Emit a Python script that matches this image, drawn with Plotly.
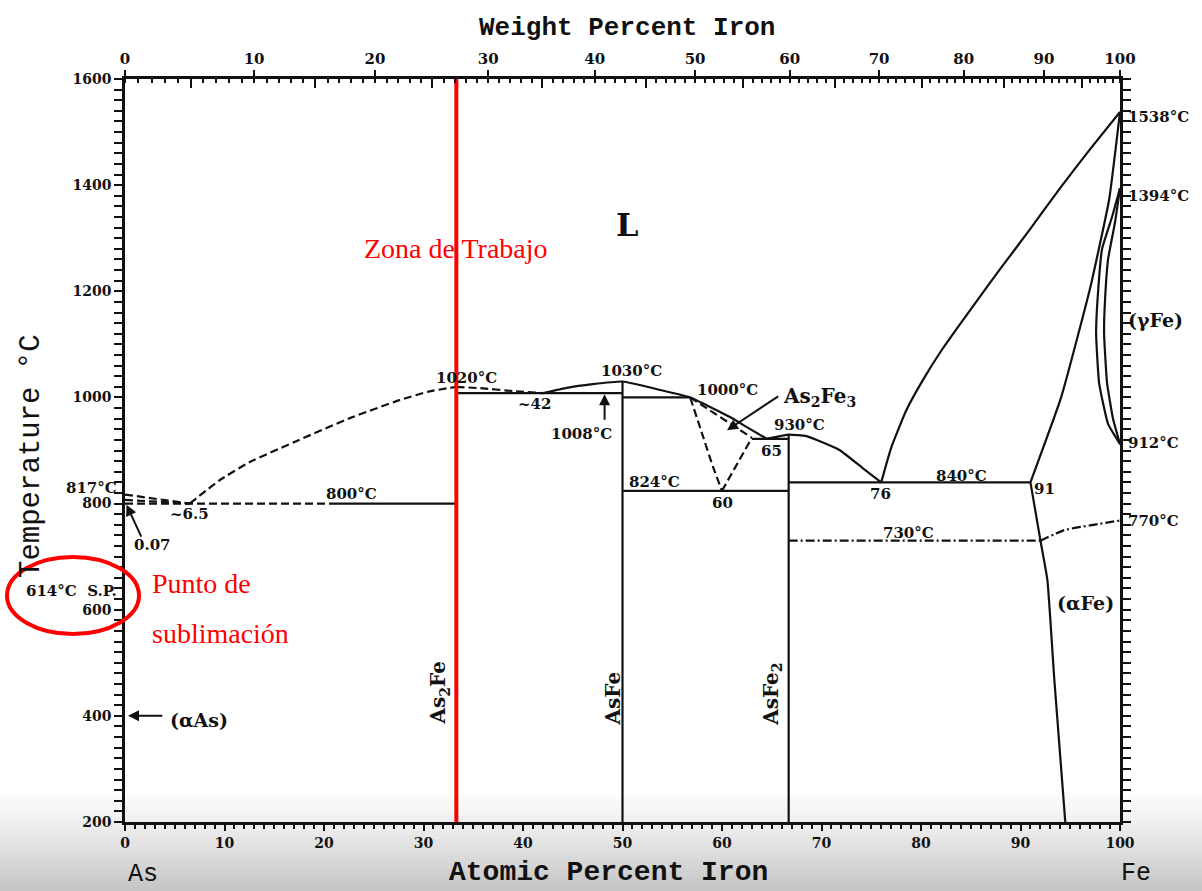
import plotly.graph_objects as go

# ---------------------------------------------------------------
# As-Fe phase diagram: composition in atomic % Fe, temperature in °C
# ---------------------------------------------------------------
AT_RANGE = [0, 100]
T_RANGE = [200, 1600]

# weight-percent Fe scale for the top edge
wt_major = [0, 10, 20, 30, 40, 50, 60, 70, 80, 90, 100]
wt_mid = [5, 15, 25, 35, 45, 55, 65, 75, 85, 95]
wt_minor = list(range(0, 101))
M_FE = 55.845
M_AS = 74.9216

# --- As-rich side
liq_as_upper_x = [0, 6.5]
liq_as_upper_y = [817, 800]
liq_as_lower_x = [0, 6.5]
liq_as_lower_y = [807, 800]
eut800_dash_x = [0, 21]
eut800_dash_y = [800, 800]
eut800_solid_x = [21, 33.3]
eut800_solid_y = [800, 800]
liq_as2fe_x = [6.5, 9.5, 12.5, 17.5, 22.6, 27.6, 30.5, 33.3]
liq_as2fe_y = [800, 844, 878, 920, 961, 995, 1011, 1020]
liq_as2fe_ext_x = [33.3, 36, 39, 42]
liq_as2fe_ext_y = [1020, 1017, 1012, 1008]

# --- AsFe / As2Fe3 / AsFe2 region
per1008_x = [33.3, 50]
per1008_y = [1008, 1008]
liq_asfe_x = [42, 44.4, 47, 50, 53.8, 56.8, 58.5, 60.8, 62.5, 64.5]
liq_asfe_y = [1008, 1018, 1025, 1030, 1014, 1000, 985, 963, 944, 922]
per1000_x = [50, 56.8]
per1000_y = [1000, 1000]
as2fe3_left_x = [56.8, 58.1, 59.1, 60]
as2fe3_left_y = [1000, 926, 869, 824]
as2fe3_top_x = [56.8, 63]
as2fe3_top_y = [1000, 924]
as2fe3_right_x = [60, 63]
as2fe3_right_y = [824, 924]
eut922_x = [63, 66.7]
eut922_y = [922, 922]
liq_asfe2_x = [64.5, 66.7, 68.5, 71.8, 74.2, 76]
liq_asfe2_y = [922, 930, 927, 901, 866, 840]
eut824_x = [50, 66.7]
eut824_y = [824, 824]
as2fe_line_x = [33.3, 33.3]
as2fe_line_y = [200, 1008]
asfe_line_x = [50, 50]
asfe_line_y = [200, 1030]
asfe2_line_x = [66.7, 66.7]
asfe2_line_y = [200, 930]

# --- Fe-rich side
eut840_x = [66.7, 91]
eut840_y = [840, 840]
liq_fe_x = [76, 77, 78.5, 80.2, 82, 84, 86, 88, 91, 94, 97, 100]
liq_fe_y = [840, 905, 975, 1033, 1087, 1140, 1192, 1243, 1318, 1395, 1468, 1538]
sol_fe_x = [91, 94.1, 97, 98.9, 100]
sol_fe_y = [840, 1001, 1206, 1372, 1538]
gamma_outer_x = [100, 99.2, 98.2, 97.8, 97.6, 97.9, 98.8, 100]
gamma_outer_y = [1394, 1340, 1280, 1200, 1121, 1027, 950, 912]
gamma_inner_x = [100, 99.5, 98.8, 98.5, 98.4, 98.7, 99.3, 100]
gamma_inner_y = [1394, 1330, 1260, 1185, 1121, 1027, 960, 912]
solvus_fe_x = [91, 92, 92.7, 93.4, 94.5]
solvus_fe_y = [840, 731, 656, 468, 200]
curie_flat_x = [66.7, 92]
curie_flat_y = [730, 730]
curie_fe_x = [92, 94.4, 100]
curie_fe_y = [730, 750, 768]

# working composition (As2Fe)
work_x = [33.3, 33.3]
work_y = [200, 1600]

SOLID = "solid"
DASH = "8px,4px"
DASHDOT = "9px,3px,2px,3px"

boundaries = [
    (liq_as_upper_x, liq_as_upper_y, DASH),
    (liq_as_lower_x, liq_as_lower_y, DASH),
    (eut800_dash_x, eut800_dash_y, DASH),
    (eut800_solid_x, eut800_solid_y, SOLID),
    (liq_as2fe_x, liq_as2fe_y, DASH),
    (liq_as2fe_ext_x, liq_as2fe_ext_y, DASH),
    (per1008_x, per1008_y, SOLID),
    (liq_asfe_x, liq_asfe_y, SOLID),
    (per1000_x, per1000_y, SOLID),
    (as2fe3_left_x, as2fe3_left_y, DASH),
    (as2fe3_top_x, as2fe3_top_y, DASH),
    (as2fe3_right_x, as2fe3_right_y, DASH),
    (eut922_x, eut922_y, SOLID),
    (liq_asfe2_x, liq_asfe2_y, SOLID),
    (eut824_x, eut824_y, SOLID),
    (as2fe_line_x, as2fe_line_y, SOLID),
    (asfe_line_x, asfe_line_y, SOLID),
    (asfe2_line_x, asfe2_line_y, SOLID),
    (eut840_x, eut840_y, SOLID),
    (liq_fe_x, liq_fe_y, SOLID),
    (sol_fe_x, sol_fe_y, SOLID),
    (gamma_outer_x, gamma_outer_y, SOLID),
    (gamma_inner_x, gamma_inner_y, SOLID),
    (solvus_fe_x, solvus_fe_y, SOLID),
    (curie_flat_x, curie_flat_y, DASHDOT),
    (curie_fe_x, curie_fe_y, DASHDOT),
]


def wt_to_at(w):
    n_fe = w / M_FE
    n_as = (100 - w) / M_AS
    return 100 * n_fe / (n_fe + n_as)


# figure geometry
W, H = 1202, 891
ML, MR, MT, MB = 125, 82, 79, 69
PW, PH = W - ML - MR, H - MT - MB


def px(xp):
    return (xp - ML) / PW


def py(yp):
    return (H - MB - yp) / PH


def dx(x):
    # data composition -> paper fraction
    return (x - AT_RANGE[0]) / (AT_RANGE[1] - AT_RANGE[0])


def dy(t):
    # data temperature -> paper fraction
    return (t - T_RANGE[0]) / (T_RANGE[1] - T_RANGE[0])


fig = go.Figure()

for bx, by, dash in boundaries:
    fig.add_trace(go.Scatter(
        x=bx, y=by, mode="lines",
        line=dict(color="#111111", width=2.2, dash=dash, shape="spline", smoothing=0.4),
        hoverinfo="skip", showlegend=False,
    ))

fig.add_trace(go.Scatter(
    x=work_x, y=work_y, mode="lines",
    line=dict(color="#ff0000", width=4),
    hoverinfo="skip", showlegend=False,
))

# dummy traces to activate the top axes
fig.add_trace(go.Scatter(x=[0], y=[200], xaxis="x2", mode="markers",
                         marker=dict(opacity=0), hoverinfo="skip", showlegend=False))
fig.add_trace(go.Scatter(x=[0], y=[200], xaxis="x3", mode="markers",
                         marker=dict(opacity=0), hoverinfo="skip", showlegend=False))

NUM = dict(family="DejaVu Serif", size=15, color="#111111", weight="bold")
TYPE = "Liberation Mono"

ann = []


def label(text, x, y, size=15, xanchor="center", angle=0, color="#111111",
          family="DejaVu Serif", weight="bold", ref="data"):
    if ref == "data":
        x, y = dx(x), dy(y)
    ann.append(dict(text=text, x=x, y=y, xref="paper", yref="paper", showarrow=False,
                    xanchor=xanchor, yanchor="middle", textangle=angle,
                    font=dict(family=family, size=size, color=color, weight=weight)))


def arrow(hx, hy, tx, ty):
    ann.append(dict(text="", x=hx, y=hy, ax=tx, ay=ty, xref="x", yref="y",
                    axref="x", ayref="y", showarrow=True, arrowhead=2,
                    arrowsize=1.1, arrowwidth=2, arrowcolor="#111111"))


label("817°C", -0.6, 829, xanchor="right")
label("0.07", 0.75, 722, xanchor="left")
label("~6.5", 6.5, 780)
label("800°C", 22.8, 818)
label("1020°C", 34.3, 1037)
label("~42", 41.2, 988)
label("1008°C", 45.9, 931)
label("1030°C", 50.9, 1050)
label("1000°C", 60.6, 1014)
label("As<sub>2</sub>Fe<sub>3</sub>", 65.9, 1001, size=20, xanchor="left")
label("930°C", 67.8, 948)
label("65", 65.0, 899)
label("824°C", 53.2, 841)
label("60", 60.1, 801)
label("840°C", 84.1, 852)
label("76", 75.9, 818)
label("91", 92.4, 827)
label("730°C", 78.7, 745)
label("L", 50.5, 1325, size=32)
label("1538°C", 100.6, 1528, xanchor="left")
label("1394°C", 100.6, 1380, xanchor="left")
label("(γFe)", 100.6, 1146, size=19, xanchor="left")
label("912°C", 100.6, 914, xanchor="left")
label("770°C", 100.6, 767, xanchor="left")
label("(αFe)", 96.5, 613, size=19)
label("614°C  S.P.", px(71), py(591), size=15, ref="paper")
label("(αAs)", 7.4, 392, size=19)
label("As<sub>2</sub>Fe", 31.6, 443, size=20, angle=-90)
label("AsFe", 49.0, 432, size=20, angle=-90)
label("AsFe<sub>2</sub>", 65.0, 441, size=20, angle=-90)

label("Zona de Trabajo", 33.3, 1281, size=28, color="#ff0000",
      family="Liberation Serif", weight="normal")
label("Punto de", 2.5, 650, size=28, xanchor="left", color="#ff0000",
      family="Liberation Serif", weight="normal")
label("sublimación", 2.5, 556, size=28, xanchor="left", color="#ff0000",
      family="Liberation Serif", weight="normal")

label("Weight Percent Iron", px(627), py(28), size=26, family=TYPE, ref="paper")
label("Atomic Percent Iron", px(608), py(872), size=28, family=TYPE, ref="paper")
label("As", px(143), py(874), size=25, family=TYPE, weight="normal", ref="paper")
label("Fe", px(1136), py(873), size=25, family=TYPE, weight="normal", ref="paper")
label("Temperature °C", px(32), py(456), size=29, family=TYPE, weight="normal",
      angle=-90, ref="paper")

arrow(0.15, 798, 1.7, 735)
arrow(48.2, 1006, 48.2, 955)
arrow(60.5, 938, 65.8, 1004)
arrow(0.3, 400, 3.9, 400)

shapes = []
# bottom shading band
N_BAND = 24
top_px, bot_px = 795, H
for i in range(N_BAND):
    y0 = top_px + (bot_px - top_px) * i / N_BAND
    y1 = top_px + (bot_px - top_px) * (i + 1) / N_BAND
    g = int(252 - 56 * ((i + 0.5) / N_BAND) ** 1.2)
    shapes.append(dict(type="rect", xref="paper", yref="paper",
                       x0=px(0), x1=px(W), y0=py(y1), y1=py(y0),
                       fillcolor=f"rgb({g},{g},{g})", line=dict(width=0),
                       layer="below"))
# red ring around the sublimation point
shapes.append(dict(type="circle", xref="paper", yref="paper",
                   x0=px(7), x1=px(139), y0=py(634), y1=py(557),
                   line=dict(color="#ff0000", width=4)))

AXLINE = dict(showline=True, linecolor="#111111", linewidth=2.5)

fig.update_layout(
    width=W, height=H,
    margin=dict(l=ML, r=MR, t=MT, b=MB),
    paper_bgcolor="white",
    plot_bgcolor="rgba(0,0,0,0)",
    showlegend=False,
    annotations=ann,
    shapes=shapes,
    xaxis=dict(
        range=AT_RANGE, **AXLINE, showgrid=False, zeroline=False,
        tickmode="array", tickvals=list(range(0, 101, 10)),
        ticks="outside", ticklen=6, tickwidth=2, tickcolor="#111111",
        tickfont=dict(family="DejaVu Serif", size=14, color="#111111", weight="bold"),
        minor=dict(dtick=1, ticks="outside", ticklen=4, tickwidth=1.5,
                   tickcolor="#111111", showgrid=False),
    ),
    xaxis2=dict(
        range=AT_RANGE, overlaying="x", side="top", anchor="y",
        **AXLINE, showgrid=False, zeroline=False,
        tickmode="array", tickvals=[wt_to_at(w) for w in wt_major],
        ticktext=[str(w) for w in wt_major],
        ticks="outside", ticklen=6, tickwidth=2, tickcolor="#111111",
        tickfont=NUM,
        minor=dict(tickmode="array", tickvals=[wt_to_at(w) for w in wt_minor],
                   ticks="inside", ticklen=4, tickwidth=1.5,
                   tickcolor="#111111", showgrid=False),
    ),
    xaxis3=dict(
        range=AT_RANGE, overlaying="x", side="top", anchor="y",
        showline=False, showgrid=False, zeroline=False, showticklabels=False,
        tickmode="array", tickvals=[wt_to_at(w) for w in wt_mid],
        ticks="inside", ticklen=9, tickwidth=2, tickcolor="#111111",
    ),
    yaxis=dict(
        range=T_RANGE, **AXLINE, mirror="allticks", showgrid=False, zeroline=False,
        tickmode="array", tickvals=list(range(200, 1601, 200)),
        ticks="outside", ticklen=8, tickwidth=2, tickcolor="#111111",
        tickfont=dict(family="DejaVu Serif", size=14, color="#111111", weight="bold"),
        minor=dict(dtick=20, tick0=200, ticks="outside", ticklen=4, tickwidth=1.5,
                   tickcolor="#111111", showgrid=False),
    ),
)

fig.write_html("out.html")
